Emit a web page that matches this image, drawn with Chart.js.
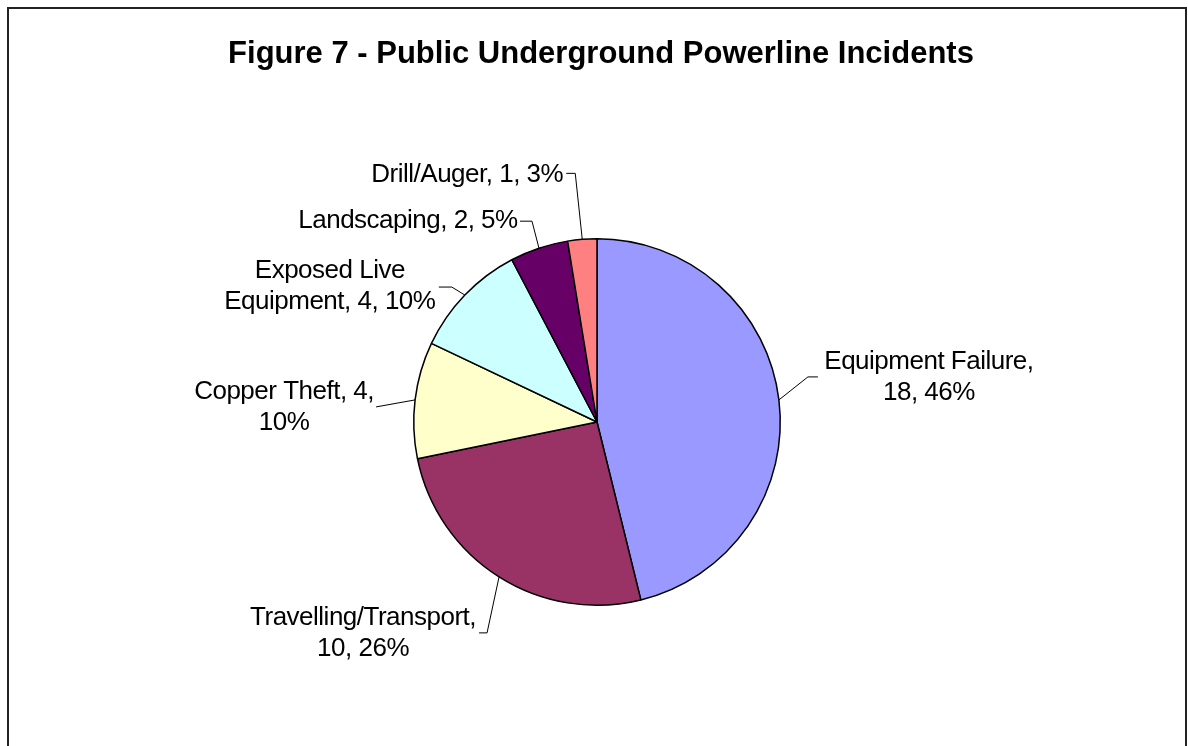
<!DOCTYPE html>
<html>
<head>
<meta charset="utf-8">
<script src="https://cdn.jsdelivr.net/npm/chart.js@4.4.0/dist/chart.umd.min.js"></script>
<style>
  html, body { margin: 0; padding: 0; background: #fff; }
</style>
</head>
<body>
<canvas id="pieChart" width="1188" height="746"></canvas>
<script>
// Chart data
const titleText = 'Figure 7 - Public Underground Powerline Incidents';
const categories = ['Equipment Failure', 'Travelling/Transport', 'Copper Theft', 'Exposed Live Equipment', 'Landscaping', 'Drill/Auger'];
const incidents = [18, 10, 4, 4, 2, 1];
const sliceColors = ['#9999FF', '#993366', '#FFFFCC', '#CCFFFF', '#660066', '#FF8080'];

// Label placement: elbow offset from slice edge, horizontal run, text centre offset from line end, wrap width
const labelLayout = [
    { elbow: [29, -23], run: 10,  text: [111, 0],   wrap: 215 },
    { elbow: [-12, 56], run: -8,  text: [-116, 0],  wrap: 230 },
    { elbow: [-39, 7],  run: 0,   text: [-92, 0],   wrap: 185 },
    { elbow: [-13, -8], run: -13, text: [-109, -1], wrap: 225 },
    { elbow: [-7, -27], run: -12, text: [-112, 0],  wrap: 400 },
    { elbow: [-7, -66], run: -9,  text: [-99, 1],   wrap: 400 }
];

const labelFont = '26px "Liberation Sans", Arial, sans-serif';
const lineGap = 31;

function wrapText(ctx, text, maxWidth) {
    const words = text.split(' ');
    const lines = [];
    let line = '';
    words.forEach(w => {
        const test = line ? line + ' ' + w : w;
        if (line && ctx.measureText(test).width > maxWidth) {
            lines.push(line);
            line = w;
        } else {
            line = test;
        }
    });
    if (line) lines.push(line);
    return lines;
}

// Draws the frame, title and the leader-line data labels
const excelLook = {
    id: 'excelLook',
    afterDraw(chart) {
        const ctx = chart.ctx;
        const total = incidents.reduce((a, b) => a + b, 0);
        ctx.save();

        // outer frame
        ctx.strokeStyle = '#222';
        ctx.lineWidth = 2;
        ctx.strokeRect(8, 8, 1178, 760);

        // title
        ctx.fillStyle = '#000';
        ctx.font = 'bold 31px "Liberation Sans", Arial, sans-serif';
        ctx.textAlign = 'center';
        ctx.textBaseline = 'middle';
        ctx.fillText(titleText, 601, 54);

        // labels
        const meta = chart.getDatasetMeta(0);
        ctx.font = labelFont;
        ctx.letterSpacing = '-0.5px';
        meta.data.forEach((arc, i) => {
            const mid = (arc.startAngle + arc.endAngle) / 2;
            const ex = arc.x + arc.outerRadius * Math.cos(mid);
            const ey = arc.y + arc.outerRadius * Math.sin(mid);
            const lay = labelLayout[i];
            const bx = ex + lay.elbow[0];
            const by = ey + lay.elbow[1];
            const endX = bx + lay.run;

            ctx.strokeStyle = '#000';
            ctx.lineWidth = 1;
            ctx.beginPath();
            ctx.moveTo(ex, ey);
            ctx.lineTo(bx, by);
            ctx.lineTo(endX, by);
            ctx.stroke();

            const pct = Math.round(incidents[i] / total * 100);
            const text = categories[i] + ', ' + incidents[i] + ', ' + pct + '%';
            const lines = wrapText(ctx, text, lay.wrap);
            const cx = endX + lay.text[0];
            const cy = by + lay.text[1];
            const top = cy - (lines.length - 1) * lineGap / 2;
            lines.forEach((ln, k) => ctx.fillText(ln, cx, top + k * lineGap));
        });
        ctx.restore();
    }
};

const ctx = document.getElementById('pieChart').getContext('2d');
const chart = new Chart(ctx, {
    type: 'pie',
    data: {
        labels: categories,
        datasets: [{
            data: incidents,
            backgroundColor: sliceColors,
            borderColor: '#000',
            borderWidth: 1.5
        }]
    },
    options: {
        responsive: false,
        animation: false,
        events: [],
        layout: { padding: { top: 238, bottom: 140, left: 413, right: 407 } },
        plugins: {
            legend: { display: false },
            tooltip: { enabled: false }
        }
    },
    plugins: [excelLook]
});
</script>
</body>
</html>
